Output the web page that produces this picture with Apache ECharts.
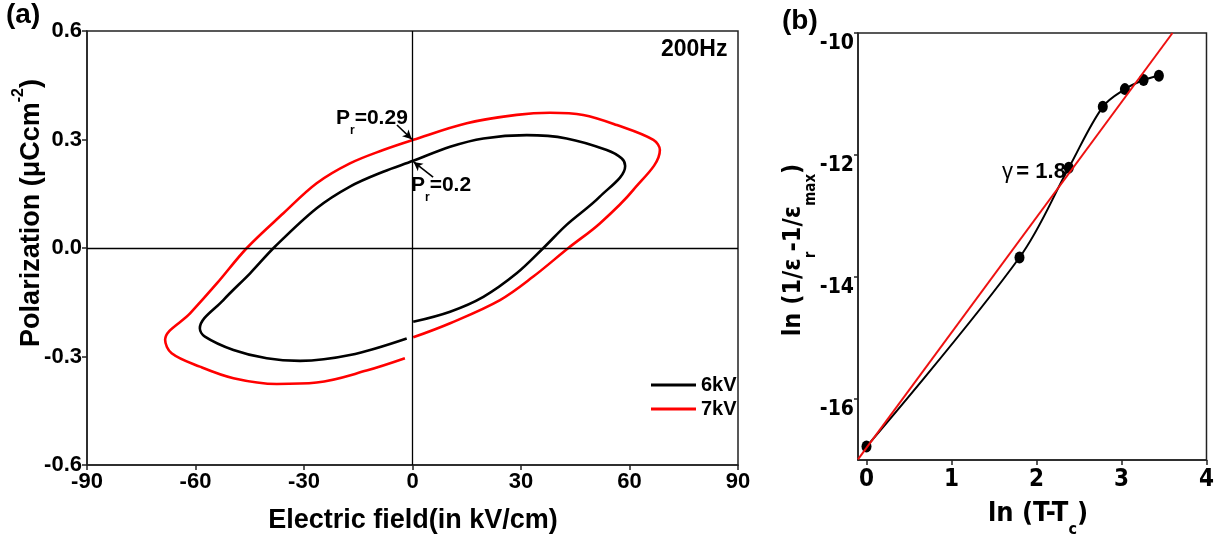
<!DOCTYPE html>
<html>
<head>
<meta charset="utf-8">
<script src="https://cdn.jsdelivr.net/npm/echarts@6/dist/echarts.min.js"></script>
<style>
html,body{margin:0;padding:0;background:#fff;}
#chart{width:1217px;height:538px;}
</style>
</head>
<body>
<div id="chart"></div>
<script>
// ---------- Panel (a): P-E hysteresis loops at 200 Hz ----------
const field6 = [0.2, 10.4, 19.6, 28.8, 36.2, 42.6, 51.8, 58.8, 57.8, 53.7, 42.6, 31.6, 19.6, 10.4, 0.2, -8.1, -17.3, -26.5, -38.0, -44.9, -52.3, -58.8, -57.4, -49.5, -40.3, -31.1, -17.3, -1.6];
const pol6   = [-0.204, -0.176, -0.135, -0.070, 0.000, 0.064, 0.142, 0.227, 0.248, 0.271, 0.303, 0.312, 0.303, 0.280, 0.241, 0.211, 0.170, 0.110, 0.004, -0.070, -0.144, -0.222, -0.245, -0.282, -0.305, -0.312, -0.296, -0.250];
const field7 = [0.2, 10.4, 24.2, 33.4, 43.1, 51.8, 61.0, 68.4, 66.6, 56.5, 47.2, 38.0, 28.8, 15.0, 0.2, -8.1, -17.3, -26.5, -35.7, -45.8, -54.1, -61.5, -68.4, -66.6, -58.8, -49.5, -37.5, -26.5, -12.7, -2.1];
const pol7   = [-0.247, -0.208, -0.144, -0.079, 0.000, 0.068, 0.160, 0.271, 0.299, 0.340, 0.368, 0.374, 0.368, 0.345, 0.299, 0.271, 0.234, 0.179, 0.096, 0.000, -0.098, -0.181, -0.254, -0.291, -0.328, -0.360, -0.376, -0.372, -0.339, -0.305];
const seriesNamesA = ['6kV', '7kV'];
const aXTicks = [-90, -60, -30, 0, 30, 60, 90];
const aYTicks = [-0.6, -0.3, 0.0, 0.3, 0.6];
// remanent polarization annotations: [label point, curve point]
const prArrow7 = [[-4.3, 0.340], [-0.2, 0.301]];
const prArrow6 = [[5.7, 0.196], [0.3, 0.238]];

// ---------- Panel (b): modified Curie-Weiss fit ----------
const lnT   = [0, 1.80, 2.38, 2.78, 3.04, 3.26, 3.44];
const lnEps = [-16.78, -13.68, -12.21, -11.21, -10.92, -10.77, -10.70];
const fitX  = [-0.1, 3.6];
const fitY  = [-16.99, -10.0];
const bXTicks = [0, 1, 2, 3, 4];
const bYTicks = [-16, -14, -12, -10];

const zip = (a, b) => a.map((v, i) => [v, b[i]]);

const FONT = '"Liberation Sans", Arial, Helvetica, sans-serif';
const NARROW = '"Liberation Sans Narrow", "Arial Narrow", "DejaVu Sans Condensed", sans-serif';

const chart = echarts.init(document.getElementById('chart'), null, {renderer: 'canvas'});

const option = {
  animation: false,
  backgroundColor: '#fff',
  grid: [
    {left: 87, top: 31, width: 651, height: 434, show: true, borderColor: '#222', borderWidth: 1.5, backgroundColor: 'transparent'},
    {left: 858, top: 33, width: 353, height: 427, show: true, borderColor: '#222', borderWidth: 1.5, backgroundColor: 'transparent'}
  ],
  xAxis: [
    {
      gridIndex: 0, type: 'value', min: aXTicks[0], max: aXTicks[aXTicks.length - 1], interval: 30,
      axisLine: {show: true, onZero: false, lineStyle: {color: '#222', width: 1.5}},
      axisTick: {show: true, inside: false, length: 5, lineStyle: {color: '#222', width: 1.5}},
      axisLabel: {margin: 6, color: '#000', fontFamily: FONT, fontWeight: 'bold', fontSize: 22},
      splitLine: {show: false}
    },
    {
      gridIndex: 1, type: 'value', min: -0.1, max: 4,
      axisLine: {show: true, onZero: false, lineStyle: {color: '#222', width: 1.5}},
      axisTick: {show: true, inside: false, length: 5, customValues: bXTicks, lineStyle: {color: '#222', width: 1.5}},
      axisLabel: {margin: 8, color: '#000', fontFamily: NARROW, fontWeight: 'bold', fontSize: 24, customValues: bXTicks},
      splitLine: {show: false}
    }
  ],
  yAxis: [
    {
      gridIndex: 0, type: 'value', min: aYTicks[0], max: aYTicks[aYTicks.length - 1], interval: 0.3,
      axisLine: {show: true, onZero: false, lineStyle: {color: '#222', width: 1.5}},
      axisTick: {show: true, inside: false, length: 5, lineStyle: {color: '#222', width: 1.5}},
      axisLabel: {margin: 5, color: '#000', fontFamily: FONT, fontWeight: 'bold', fontSize: 22,
        formatter: v => (Math.abs(v) < 1e-9 ? 0 : v).toFixed(1)},
      splitLine: {show: false}
    },
    {
      gridIndex: 1, type: 'value', min: -17, max: -10,
      axisLine: {show: true, onZero: false, lineStyle: {color: '#222', width: 1.5}},
      axisTick: {show: true, inside: false, length: 4, customValues: bYTicks, lineStyle: {color: '#222', width: 1.5}},
      axisLabel: {margin: 4, color: '#000', customValues: bYTicks,
        formatter: v => '{t|' + v + '}',
        rich: {t: {fontFamily: NARROW, fontWeight: 'bold', fontSize: 21, color: '#000', padding: [22, 0, 0, 0]}}},
      splitLine: {show: false}
    }
  ],
  legend: {
    data: seriesNamesA,
    orient: 'vertical',
    left: 646, top: 369,
    icon: 'rect',
    itemWidth: 45, itemHeight: 3, itemGap: 2,
    textStyle: {fontFamily: FONT, fontWeight: 'bold', fontSize: 20, color: '#000', lineHeight: 22},
    selectedMode: false
  },
  series: [
    {
      name: seriesNamesA[0], type: 'line', xAxisIndex: 0, yAxisIndex: 0,
      data: zip(field6, pol6), smooth: 0.35, symbol: 'none',
      lineStyle: {color: '#000', width: 2.6}, itemStyle: {color: '#000'},
      z: 3,
      markLine: {
        silent: true, symbol: ['none', 'arrow'], symbolSize: [7, 9], animation: false,
        label: {show: false},
        lineStyle: {color: '#000', width: 1.6, type: 'solid'},
        emphasis: {disabled: true},
        data: [
          [{coord: prArrow7[0]}, {coord: prArrow7[1]}],
          [{coord: prArrow6[0]}, {coord: prArrow6[1]}]
        ]
      }
    },
    {
      name: seriesNamesA[1], type: 'line', xAxisIndex: 0, yAxisIndex: 0,
      data: zip(field7, pol7), smooth: 0.35, symbol: 'none',
      lineStyle: {color: '#ff0000', width: 2.6}, itemStyle: {color: '#ff0000'},
      z: 3,
      markLine: {
        silent: true, symbol: 'none', animation: false,
        label: {show: false},
        lineStyle: {color: '#000', width: 1.3, type: 'solid'},
        emphasis: {disabled: true},
        data: [{xAxis: 0}, {yAxis: 0}]
      }
    },
    {
      name: 'data', type: 'line', xAxisIndex: 1, yAxisIndex: 1,
      data: zip(lnT, lnEps), smooth: 0.35,
      symbol: 'circle', symbolSize: [10, 12], showSymbol: true,
      lineStyle: {color: '#000', width: 2}, itemStyle: {color: '#000'}, z: 3
    },
    {
      name: 'fit', type: 'line', xAxisIndex: 1, yAxisIndex: 1,
      data: zip(fitX, fitY), symbol: 'none', clip: true,
      lineStyle: {color: '#ee1111', width: 2}, z: 4
    }
  ],
  graphic: [
    {type: 'text', left: 6, top: 1, style: {text: '(a)', font: 'bold 28px ' + FONT, fill: '#000'}},
    {type: 'text', left: 782, top: 7, style: {text: '(b)', font: 'bold 28px ' + FONT, fill: '#000'}},
    {type: 'text', left: 661, top: 38, style: {text: '200Hz', font: 'bold 23px ' + FONT, fill: '#000'}},
    {type: 'text', x: 336, y: 121, style: {
      text: '{m|P}{s|r}{m|=0.29}', verticalAlign: 'middle', align: 'left',
      rich: {m: {font: 'bold 21px ' + FONT, fill: '#000', lineHeight: 26, verticalAlign: 'top'},
             s: {font: 'bold 12px ' + FONT, fill: '#000', lineHeight: 26, verticalAlign: 'bottom', padding: [0, 0, -3, 0]}}}},
    {type: 'text', x: 411, y: 188, style: {
      text: '{m|P}{s|r}{m|=0.2}', verticalAlign: 'middle', align: 'left',
      rich: {m: {font: 'bold 21px ' + FONT, fill: '#000', lineHeight: 26, verticalAlign: 'top'},
             s: {font: 'bold 12px ' + FONT, fill: '#000', lineHeight: 26, verticalAlign: 'bottom', padding: [0, 0, -3, 0]}}}},
    {type: 'text', x: 1002, y: 172, style: {
      text: '{g|γ} {m|= 1.8}', verticalAlign: 'middle', align: 'left',
      rich: {g: {font: '22px ' + FONT, fill: '#000'}, m: {font: 'bold 22px ' + FONT, fill: '#000'}}}},
    {type: 'text', x: 413, y: 521, style: {text: 'Electric field(in kV/cm)', font: 'bold 27px ' + FONT, fill: '#000', align: 'center', verticalAlign: 'middle'}},
    {type: 'text', x: 28, y: 213, rotation: Math.PI / 2, style: {
      text: '{m|Polarization (μCcm}{s|-2}{m|)}', align: 'center', verticalAlign: 'middle',
      rich: {m: {font: 'bold 27px ' + FONT, fill: '#000', lineHeight: 34, verticalAlign: 'bottom'},
             s: {font: 'bold 16px ' + FONT, fill: '#000', lineHeight: 34, verticalAlign: 'top'}}}},
    {type: 'text', x: 1038, y: 517, style: {
      text: '{m|ln (T-T}{s|c}{m|)}', align: 'center', verticalAlign: 'middle',
      rich: {m: {font: 'bold 27px ' + NARROW, fill: '#000', lineHeight: 34, verticalAlign: 'top'},
             s: {font: 'bold 16px ' + NARROW, fill: '#000', lineHeight: 34, verticalAlign: 'bottom', padding: [0, 0, -4, 0]}}}},
    {type: 'text', x: 798, y: 250, rotation: Math.PI / 2, style: {
      text: '{m|ln (1/ε}{s|r}{m|-1/ε}{s|max}{m|)}', align: 'center', verticalAlign: 'middle',
      rich: {m: {font: 'bold 25px ' + NARROW, fill: '#000', lineHeight: 34, verticalAlign: 'top'},
             s: {font: 'bold 15px ' + NARROW, fill: '#000', lineHeight: 34, verticalAlign: 'bottom', padding: [0, 0, -4, 0]}}}}
  ]
};
chart.setOption(option);
</script>
</body>
</html>
